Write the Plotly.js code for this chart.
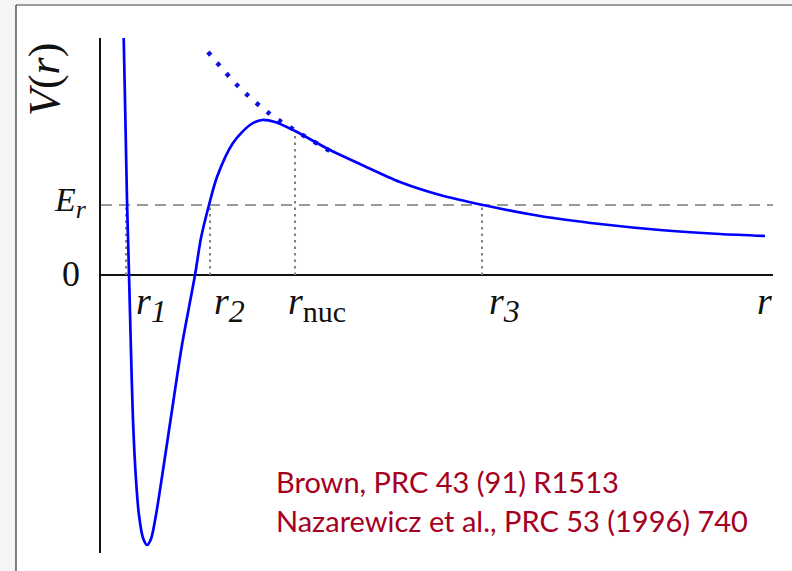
<!DOCTYPE html>
<html>
<head>
<meta charset="utf-8">
<script src="https://cdn.plot.ly/plotly-3.0.1.min.js"></script>
<style>
  html, body { margin: 0; padding: 0; background: #ffffff; }
  #chart { width: 792px; height: 571px; }
</style>
</head>
<body>
<div id="chart"></div>
<script>
// Schematic nuclear potential V(r): deep well, Coulomb barrier, resonance energy Er
const potR = [0.338, 0.354, 0.366, 0.387, 0.417, 0.446, 0.476, 0.521, 0.565, 0.625, 0.685,
              0.744, 0.818, 0.923, 1.057, 1.205, 1.399, 1.488, 1.607, 1.726, 1.964,
              2.217, 2.396, 2.589, 2.887, 3.408, 3.854, 4.449, 5.045, 5.685, 6.533,
              7.426, 8.318, 9.211, 9.881];
const potV = [2.37, 1.85, 1.45, 0.75, 0.00, -0.75, -1.45, -2.05, -2.40, -2.63, -2.70,
              -2.64, -2.40, -1.95, -1.35, -0.70, 0.00, 0.37, 0.70, 0.98, 1.32,
              1.50, 1.55, 1.53, 1.44, 1.25, 1.11, 0.93, 0.80, 0.70, 0.59,
              0.51, 0.45, 0.41, 0.39];

// Pure Coulomb continuation inside the barrier
const coulR = [1.592, 2.068, 2.515, 2.902, 3.408];
const coulV = [2.23, 1.87, 1.61, 1.44, 1.24];

// Resonance energy and the marked radii
const Er = 0.70;
const radii = { r1: 0.372, r2: 1.622, rnuc: 2.887, r3: 5.670 };
const rnucV = 1.44;

const xRange = [0, 10];
const yRange = [-2.78, 2.37];

const serif = 'Liberation Serif, Times New Roman, serif';
const blue = '#0000ff';
const grey = '#808080';

const traces = [];

// Er level
traces.push({
  x: xRange, y: [Er, Er], mode: 'lines', hoverinfo: 'skip',
  line: { color: '#9a9a9a', width: 2, dash: '11px,7px' }
});

// Vertical markers down to the r axis
[['r1', Er], ['r2', Er], ['rnuc', rnucV], ['r3', Er]].forEach(([k, top]) => {
  traces.push({
    x: [radii[k], radii[k]], y: [0, top], mode: 'lines', hoverinfo: 'skip',
    line: { color: grey, width: 2, dash: '2.5px,4px' }
  });
});

// Coulomb tail (dotted)
traces.push({
  x: coulR, y: coulV, mode: 'lines', hoverinfo: 'skip',
  line: { color: '#1010e0', width: 4.5, dash: '4px,10px', shape: 'spline' }
});

// Potential curve
traces.push({
  x: potR, y: potV, mode: 'lines', hoverinfo: 'skip',
  line: { color: blue, width: 2.7, shape: 'spline', smoothing: 0.8 }
});

const sub = (t, italic, size) =>
  '<sub><span style="font-size:' + size + 'px">' + (italic ? '<i>' + t + '</i>' : t) + '</span></sub>';

const xLabels = [
  { x: radii.r1,   text: '<i>r</i>' + sub('1', true, 32),    shift: 8 },
  { x: radii.r2,   text: '<i>r</i>' + sub('2', true, 32),    shift: 2 },
  { x: radii.rnuc, text: '<i>r</i>' + sub('nuc', false, 30), shift: -9 },
  { x: radii.r3,   text: '<i>r</i>' + sub('3', true, 32),    shift: 5 }
];

const annotations = xLabels.map(l => ({
  x: l.x, y: 0, xref: 'x', yref: 'y', xanchor: 'left', yanchor: 'top',
  xshift: l.shift, yshift: -3, showarrow: false, text: l.text,
  font: { family: serif, size: 38, color: '#111' }
}));

annotations.push(
  { x: xRange[1], y: 0, xref: 'x', yref: 'y', xanchor: 'right', yanchor: 'top',
    xshift: 1, yshift: -3, showarrow: false, text: '<i>r</i>',
    font: { family: serif, size: 38, color: '#111' } },
  { x: 0, y: 0, xref: 'x', yref: 'y', xanchor: 'right', yanchor: 'middle',
    xshift: -19, yshift: 1, showarrow: false, text: '0',
    font: { family: serif, size: 36, color: '#111' } },
  { x: 0, y: Er, xref: 'x', yref: 'y', xanchor: 'right', yanchor: 'middle',
    xshift: -12, yshift: 3, showarrow: false,
    text: '<i>E</i><sub><span style="font-size:26px"><i>r</i></span></sub>',
    font: { family: serif, size: 34, color: '#111' } },
  { x: 0, y: yRange[1], xref: 'x', yref: 'y', xanchor: 'center', yanchor: 'middle',
    xshift: -57, yshift: -42, showarrow: false, textangle: -90,
    text: '<i>V</i>(<i>r</i>)',
    font: { family: serif, size: 44, color: '#111' } },
  { x: 0.2574, y: 0.1398, xref: 'paper', yref: 'paper', xanchor: 'left', yanchor: 'middle',
    showarrow: false, text: 'Brown, PRC 43 (91) R1513',
    font: { family: 'Lato, Noto Sans, sans-serif', size: 29, color: '#a50021' } },
  { x: 0.2574, y: 0.064, xref: 'paper', yref: 'paper', xanchor: 'left', yanchor: 'middle',
    showarrow: false, text: 'Nazarewicz et al., PRC 53 (1996) 740',
    font: { family: 'Lato, Noto Sans, sans-serif', size: 29, color: '#a50021' } }
);

// Slide-like frame: grey margin on the left and top, white panel
const shapes = [
  { type: 'rect', xref: 'paper', yref: 'paper', x0: -0.1265, x1: 1.03, y0: -0.04, y1: 1.064,
    fillcolor: '#ffffff', line: { width: 0 }, layer: 'below' },
  { type: 'line', xref: 'paper', yref: 'paper', x0: -0.1265, x1: 1.03, y0: 1.064, y1: 1.064,
    line: { color: '#9c9c9c', width: 2 }, layer: 'below' },
  { type: 'line', xref: 'paper', yref: 'paper', x0: -0.1265, x1: -0.1265, y0: -0.04, y1: 1.064,
    line: { color: '#555555', width: 1.5 }, layer: 'below' }
];

const layout = {
  width: 792, height: 571,
  margin: { l: 101, r: 19, t: 38, b: 18 },
  paper_bgcolor: '#f6f6f6',
  plot_bgcolor: 'rgba(0,0,0,0)',
  showlegend: false,
  xaxis: {
    range: xRange, showgrid: false, zeroline: false, showticklabels: false,
    ticks: '', showline: false, fixedrange: true
  },
  yaxis: {
    range: yRange, showgrid: false, showticklabels: false, ticks: '',
    zeroline: true, zerolinecolor: '#111', zerolinewidth: 2.5,
    showline: true, linecolor: '#111', linewidth: 2.5, fixedrange: true
  },
  shapes: shapes,
  annotations: annotations
};

Plotly.newPlot('chart', traces, layout, { displayModeBar: false, staticPlot: true });
</script>
</body>
</html>
